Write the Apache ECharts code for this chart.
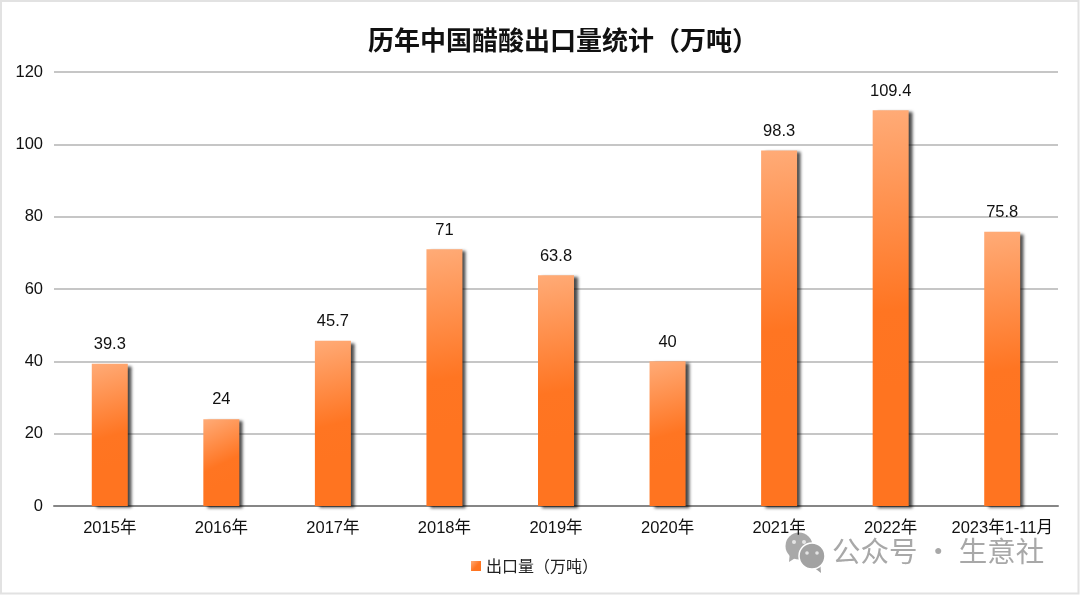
<!DOCTYPE html>
<html><head><meta charset="utf-8">
<style>html,body{margin:0;padding:0;background:#fff}#c{width:1080px;height:595px}</style>
<script src="https://cdn.jsdelivr.net/npm/echarts@6/dist/echarts.min.js"></script>
</head><body><div id="c"></div>
<script>
const categories=['2015年','2016年','2017年','2018年','2019年','2020年','2021年','2022年','2023年1-11月'];
const exportVolume=[39.3,24,45.7,71,63.8,40,98.3,109.4,75.8];
const seriesName='出口量（万吨）';
const titleText='历年中国醋酸出口量统计（万吨）';
const watermark='公众号 · 生意社';
const latin='"Liberation Sans",Arial,"Noto Sans CJK SC",sans-serif';
const cjk='"Noto Sans CJK SC",sans-serif';
const chart=echarts.init(document.getElementById('c'),null,{renderer:'canvas'});
chart.setOption({
  animation:false,
  backgroundColor:'#fff',
  title:{text:titleText,left:363,top:22,
    textStyle:{fontFamily:cjk,fontSize:26,fontWeight:'bold',color:'#111'}},
  grid:{left:54,right:22,top:72,bottom:89,containLabel:false},
  legend:{top:553,left:466,itemWidth:10,itemHeight:10,itemGap:8,icon:'rect',
    textStyle:{fontFamily:cjk,fontSize:16,color:'#222'},
    data:[seriesName]},
  xAxis:{type:'category',data:categories,
    axisLine:{lineStyle:{color:'#868686',width:2}},axisTick:{show:false},
    axisLabel:{interval:0,color:'#111',fontSize:16.5,margin:14,fontFamily:latin}},
  yAxis:{type:'value',min:0,max:120,interval:20,
    axisLine:{show:false},axisTick:{show:false},
    splitLine:{lineStyle:{color:'#c6c6c6',width:2}},
    axisLabel:{color:'#111',fontSize:16.5,margin:11,fontFamily:latin}},
  series:[{name:seriesName,type:'bar',data:exportVolume,barWidth:36,
    itemStyle:{
      color:new echarts.graphic.LinearGradient(0,0,0.8,0.7,[
        {offset:0,color:'#ffab77'},{offset:0.72,color:'#ff7522'},{offset:1,color:'#ff7420'}]),
      shadowColor:'rgba(0,0,0,0.7)',shadowBlur:3,shadowOffsetX:4,shadowOffsetY:2},
    label:{show:true,position:'top',distance:11,color:'#111',fontSize:16.5,fontFamily:latin}}],
  graphic:[
    {type:'rect',silent:true,shape:{x:1,y:1,width:1077.5,height:592.5},style:{fill:'none',stroke:'#e2e2e2',lineWidth:2}},
    {type:'polygon',silent:true,shape:{points:[[790,551],[789,562],[800,555]]},style:{fill:'#a9a9a9'}},
    {type:'circle',silent:true,shape:{cx:799,cy:546,r:13.5},style:{fill:'#a9a9a9'}},
    {type:'circle',silent:true,shape:{cx:794,cy:542,r:2},style:{fill:'#e4e4e4'}},
    {type:'circle',silent:true,shape:{cx:804,cy:542,r:2},style:{fill:'#e4e4e4'}},
    {type:'polygon',silent:true,shape:{points:[[812,566],[821,573],[820,560]]},style:{fill:'#a2a2a2'}},
    {type:'circle',silent:true,shape:{cx:812,cy:556,r:13},style:{fill:'#a2a2a2',stroke:'#fff',lineWidth:1.5}},
    {type:'circle',silent:true,shape:{cx:807,cy:553,r:1.8},style:{fill:'#e4e4e4'}},
    {type:'circle',silent:true,shape:{cx:817,cy:553,r:1.8},style:{fill:'#e4e4e4'}},
    {type:'text',left:832,top:537,silent:true,style:{text:watermark,fill:'#a8a8a8',
      font:'28.5px "Noto Sans CJK SC",sans-serif'}}
  ]
});
</script></body></html>
